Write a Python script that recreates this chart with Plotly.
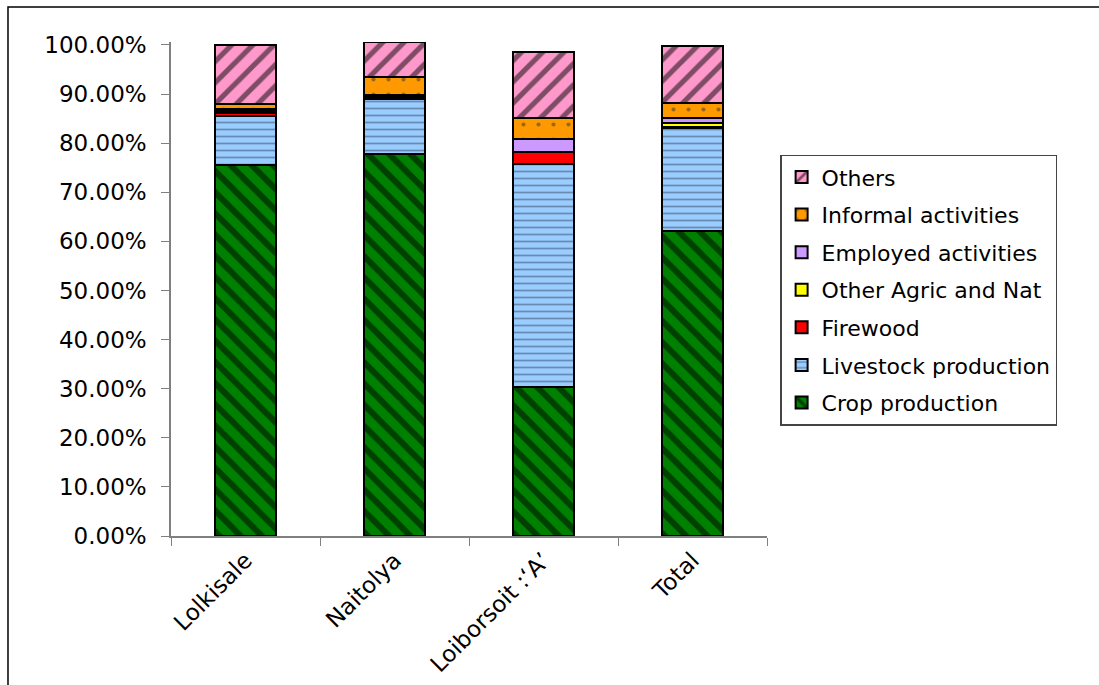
import plotly.graph_objects as go

# Share of household income by source, per village
villages = ["Lolkisale", "Naitolya", "Loiborsoit :\u2018A\u2019", "Total"]

crop_production = [75.6, 77.8, 30.4, 62.2]
livestock_production = [10.0, 11.2, 45.3, 20.8]
firewood = [0.6, 0.1, 2.5, 0.3]
other_agric_nat = [0.3, 0.5, 0.1, 0.9]
employed_activities = [0.4, 0.2, 2.6, 1.0]
informal_activities = [1.0, 3.7, 4.2, 2.9]
others = [12.1, 7.0, 13.4, 11.7]

FONT = "DejaVu Sans, Arial, sans-serif"

# name, values, fill, pattern shape, pattern colour, pattern size, solidity
series = [
    ("Crop production", crop_production, "#008000", "\\", "black", 15, 0.4),
    ("Livestock production", livestock_production, "#99CCFF", "-", "#3a4a66", 7, 0.25),
    ("Firewood", firewood, "#FF0000", "", "black", 8, 0.3),
    ("Other Agric and Nat", other_agric_nat, "#FFFF00", "", "black", 8, 0.3),
    ("Employed activities", employed_activities, "#CC99FF", "", "black", 8, 0.3),
    ("Informal activities", informal_activities, "#FF9900", ".", "#333333", 15, 0.06),
    ("Others", others, "#FF99CC", "/", "black", 15, 0.35),
]

fig = go.Figure()
n = len(series)
for i, (name, vals, color, shape, fg, size, sol) in enumerate(series):
    fig.add_trace(go.Bar(
        name=name,
        x=villages,
        y=vals,
        legendgroup=name,
        legendrank=n - i,
        marker=dict(
            color=color,
            line=dict(color="black", width=2),
            pattern=dict(shape=shape, fgcolor=fg, bgcolor=color,
                         size=size, solidity=sol, fillmode="overlay"),
        ),
        hovertemplate="%{x}: %{y:.2f}%<extra>" + name + "</extra>",
    ))

pct_ticks = [0, 10, 20, 30, 40, 50, 60, 70, 80, 90, 100]

fig.update_layout(
    width=1099,
    height=685,
    barmode="stack",
    bargap=0.59,
    plot_bgcolor="white",
    paper_bgcolor="white",
    font=dict(family=FONT, size=22, color="black"),
    margin=dict(l=171, r=332, t=42, b=149, pad=0, autoexpand=False),
    showlegend=True,
    legend=dict(
        x=1.022, y=0.772, xanchor="left", yanchor="top",
        traceorder="grouped",
        tracegroupgap=6,
        bordercolor="#444444", borderwidth=1.5,
        bgcolor="white",
        font=dict(family=FONT, size=22, color="black"),
    ),
    xaxis=dict(
        automargin=False,
        showline=True, linecolor="#808080", linewidth=1.5,
        ticks="outside", ticklen=8, tickcolor="#808080",
        tickson="boundaries",
        tickangle=-45,
        tickfont=dict(family=FONT, size=23),
        showgrid=False,
    ),
    yaxis=dict(
        automargin=False,
        range=[0, 100.6],
        tickvals=pct_ticks,
        ticktext=[f"{v:.2f}%" for v in pct_ticks],
        showline=True, linecolor="#808080", linewidth=1.5,
        ticks="outside", ticklen=8, tickcolor="#808080",
        ticklabelstandoff=10,
        tickfont=dict(family=FONT, size=23),
        showgrid=False, zeroline=False,
    ),
    shapes=[dict(
        type="rect", xref="paper", yref="paper",
        x0=-0.2735, x1=1.6, y0=-0.4, y1=1.0709,
        line=dict(color="black", width=1.5),
        fillcolor="rgba(0,0,0,0)", layer="below",
    )],
)

fig.write_html("out.html")
